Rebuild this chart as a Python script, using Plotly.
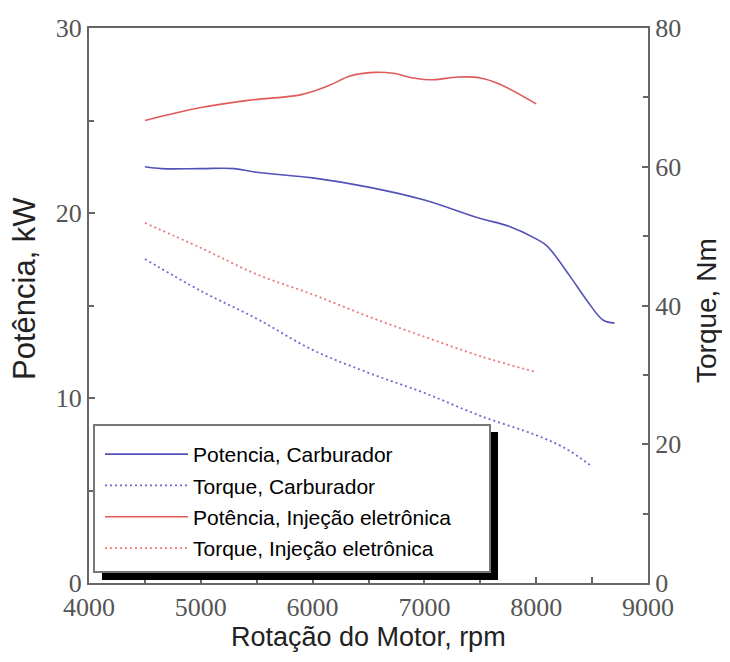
import plotly.graph_objects as go

# ---- data ----
rpm_pot_carb = [4500, 4650, 5000, 5300, 5500, 6000, 6500, 7000, 7500, 7750, 8000, 8100, 8300, 8450, 8600, 8700]
pot_carb = [22.5, 22.4, 22.4, 22.4, 22.2, 21.9, 21.4, 20.7, 19.7, 19.3, 18.6, 18.2, 16.6, 15.3, 14.2, 14.05]

rpm_torq_carb = [4500, 5000, 5500, 6000, 6500, 7000, 7500, 8000, 8250, 8500]
torq_carb = [46.7, 42.1, 38.1, 33.6, 30.3, 27.4, 24.1, 21.3, 19.5, 16.8]

rpm_pot_inj = [4500, 5000, 5440, 5900, 6150, 6335, 6550, 6720, 6900, 7080, 7300, 7500, 7680, 8000]
pot_inj = [25.0, 25.7, 26.1, 26.4, 26.9, 27.4, 27.6, 27.55, 27.3, 27.2, 27.35, 27.3, 26.95, 25.9]

rpm_torq_inj = [4500, 5000, 5500, 6000, 6500, 7000, 7500, 8000]
torq_inj = [51.9, 48.3, 44.5, 41.6, 38.4, 35.5, 32.7, 30.4]

names = ["Potencia, Carburador", "Torque, Carburador",
         "Potência, Injeção eletrônica", "Torque, Injeção eletrônica"]

x_ticks = [4000, 5000, 6000, 7000, 8000, 9000]
y_left_ticks = [0, 10, 20, 30]
y_right_ticks = [0, 20, 40, 60, 80]

x_title = "Rotação do Motor, rpm"
y_title = "Potência, kW"
y2_title = "Torque, Nm"

# ---- layout geometry (page has an 8px body margin) ----
OFF = 8
W, H = 730 - 2 * OFF, 662 - 2 * OFF
L, R, T, B = 89, 648, 28, 583          # plot area in window pixels


def xp(px):
    return (px - L) / (R - L)


def yp(py):
    return (B - py) / (B - T)


BLUE = "#5252b8"
BLUE_D = "#6a6ad0"
RED = "#e05a5a"
RED_D = "#ec7a7a"

fig = go.Figure()
fig.add_trace(go.Scatter(x=rpm_pot_carb, y=pot_carb, name=names[0], mode="lines",
                         line=dict(color=BLUE, width=1.6, shape="spline"),
                         legendgroup="a", yaxis="y"))
fig.add_trace(go.Scatter(x=rpm_torq_carb, y=torq_carb, name=names[1], mode="lines",
                         line=dict(color=BLUE_D, width=1.8, dash="2px,3px", shape="spline"),
                         legendgroup="b", yaxis="y2"))
fig.add_trace(go.Scatter(x=rpm_pot_inj, y=pot_inj, name=names[2], mode="lines",
                         line=dict(color=RED, width=1.6, shape="spline"),
                         legendgroup="c", yaxis="y"))
fig.add_trace(go.Scatter(x=rpm_torq_inj, y=torq_inj, name=names[3], mode="lines",
                         line=dict(color=RED_D, width=1.8, dash="2px,3px", shape="spline"),
                         legendgroup="d", yaxis="y2"))

tickfont = dict(family="Liberation Serif, Times New Roman, serif", size=26, color="#555555")
sans = "Liberation Sans, Arial, sans-serif"

shapes = [
    # legend shadow
    dict(type="rect", xref="paper", yref="paper",
         x0=xp(102), x1=xp(498), y0=yp(580), y1=yp(432),
         fillcolor="black", line=dict(width=0), layer="above"),
    # legend box
    dict(type="rect", xref="paper", yref="paper",
         x0=xp(94), x1=xp(490), y0=yp(572), y1=yp(425),
         fillcolor="white", line=dict(color="#777777", width=2), layer="above"),
]

annotations = [
    dict(text=x_title, xref="paper", yref="paper", x=xp(368), y=yp(653),
         xanchor="center", yanchor="bottom", showarrow=False, borderpad=0,
         font=dict(family=sans, size=27, color="#222222")),
    dict(text=y_title, xref="paper", yref="paper", x=xp(24), y=yp(289),
         xanchor="center", yanchor="middle", showarrow=False, textangle=-90,
         font=dict(family=sans, size=31, color="#222222")),
    dict(text=y2_title, xref="paper", yref="paper", x=xp(706), y=yp(311),
         xanchor="center", yanchor="middle", showarrow=False, textangle=-90,
         font=dict(family=sans, size=28, color="#222222")),
]

fig.update_layout(
    width=W, height=H,
    margin=dict(l=L - OFF, r=W - (R - OFF), t=T - OFF, b=H - (B - OFF), autoexpand=False),
    paper_bgcolor="white", plot_bgcolor="white",
    showlegend=True,
    legend=dict(x=xp(100), y=yp(434), xanchor="left", yanchor="top",
                bgcolor="rgba(0,0,0,0)", borderwidth=0,
                font=dict(family=sans, size=21, color="black"),
                itemwidth=83, tracegroupgap=1),
    shapes=shapes,
    annotations=annotations,
    xaxis=dict(range=[4000, 9000], tickvals=x_ticks, ticks="inside", ticklen=6, tickwidth=2,
               tickcolor="#666666", showline=True, linecolor="#666666", linewidth=2,
               mirror=True, showgrid=False, zeroline=False, tickfont=tickfont,
               ticklabelstandoff=0, automargin=False,
               minor=dict(dtick=500, ticks="inside", ticklen=6, tickwidth=2, tickcolor="#666666")),
    yaxis=dict(range=[0, 30], tickvals=y_left_ticks, ticks="inside", ticklen=6, tickwidth=2,
               tickcolor="#666666", showline=True, linecolor="#666666", linewidth=2,
               showgrid=False, zeroline=False, tickfont=tickfont, automargin=False,
               minor=dict(dtick=5, ticks="inside", ticklen=5, tickwidth=2, tickcolor="#666666")),
    yaxis2=dict(range=[0, 80], tickvals=y_right_ticks, overlaying="y", side="right",
                ticks="inside", ticklen=6, tickwidth=2, tickcolor="#666666",
                showline=True, linecolor="#666666", linewidth=2, automargin=False,
                showgrid=False, zeroline=False, tickfont=tickfont,
                minor=dict(dtick=10, ticks="inside", ticklen=5, tickwidth=2, tickcolor="#666666")),
)

fig.write_html("out.html")
